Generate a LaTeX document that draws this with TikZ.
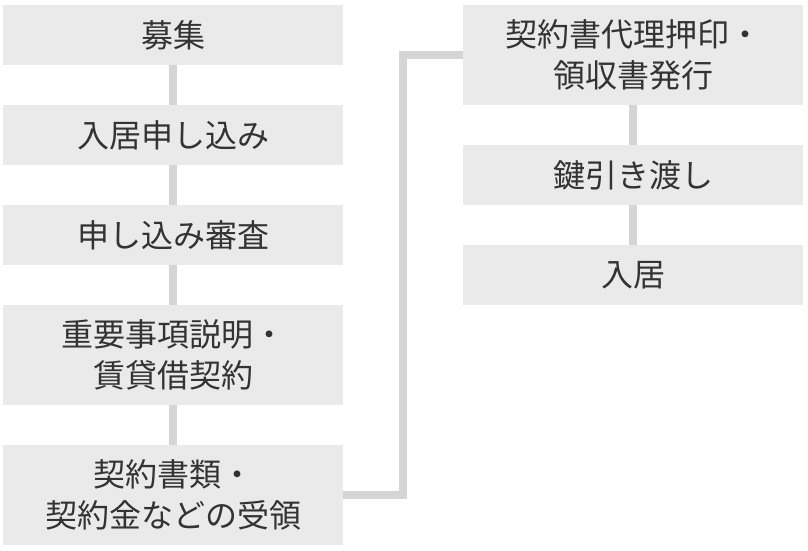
\documentclass[tikz,border=0pt]{standalone}
\usepackage{fontspec}
\newfontfamily\jpfont{Noto Sans CJK JP}
\usetikzlibrary{positioning}
\definecolor{boxfill}{HTML}{EAEAEA}
\definecolor{linkgray}{HTML}{D5D5D5}
\definecolor{textgray}{HTML}{333333}

\begin{document}
\begin{tikzpicture}[x=1pt, y=-1pt, node distance=40pt,
  box/.style={rectangle, fill=boxfill, minimum width=340pt, minimum height=60pt,
    inner sep=0pt, outer sep=0pt, align=center, text=textgray,
    font=\jpfont\fontsize{32}{41}\selectfont},
  tallbox/.style={box, minimum height=100pt},
  link/.style={draw=linkgray, line width=8pt, line join=miter}]
\useasboundingbox (0,0) rectangle (808,550);

% left column
\node[box]                    (boshu)   at (173,35) {募集};
\node[box, below = of boshu]   (moushi)  {入居申し込み};
\node[box, below = of moushi]  (shinsa)  {申し込み審査};
\node[tallbox, below = of shinsa] (juyo) {重要事項説明・\\賃貸借契約};
\node[tallbox, below = of juyo]   (juryo) {契約書類・\\契約金などの受領};

% right column
\node[tallbox]                (ouin)    at (633,55) {契約書代理押印・\\領収書発行};
\node[box, below = of ouin]    (kagi)    {鍵引き渡し};
\node[box, below = of kagi]    (nyukyo)  {入居};

% Edges
\draw[link] (boshu)  -- (moushi);
\draw[link] (moushi) -- (shinsa);
\draw[link] (shinsa) -- (juyo);
\draw[link] (juyo)   -- (juryo);
\draw[link] (juryo.east) -- ++(60,0) |- (ouin.west);
\draw[link] (ouin)   -- (kagi);
\draw[link] (kagi)   -- (nyukyo);
\end{tikzpicture}
\end{document}
